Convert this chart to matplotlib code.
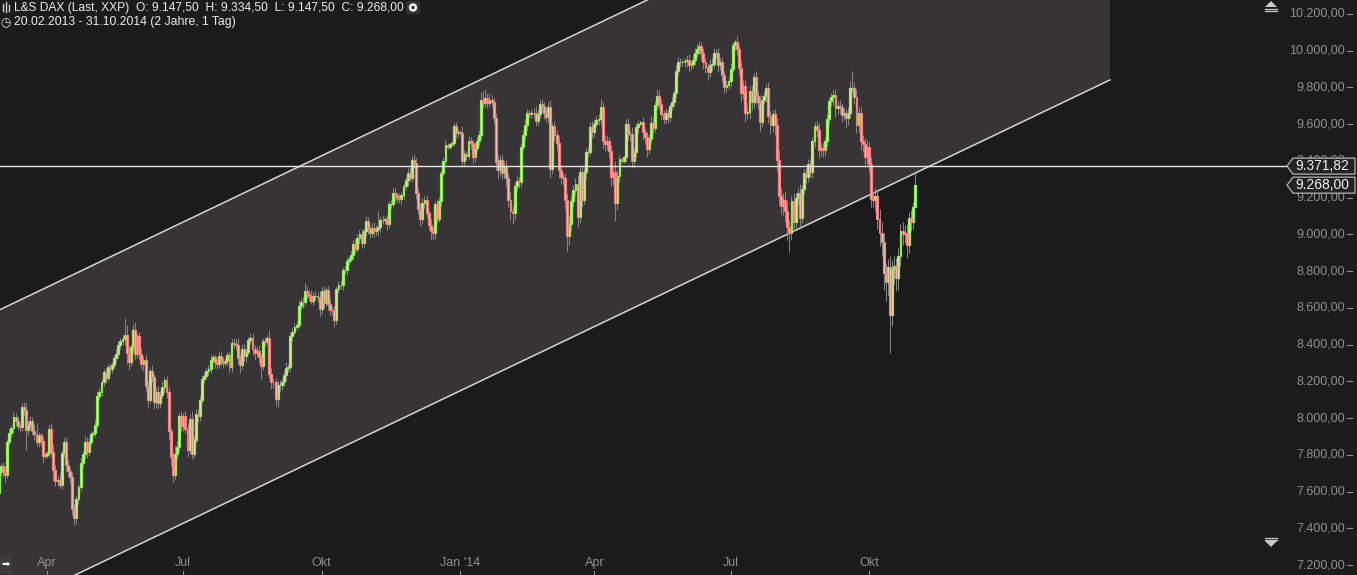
import numpy as np
import pandas as pd
import matplotlib
matplotlib.use('Agg')
import matplotlib.pyplot as plt
from matplotlib.patches import Polygon, Circle, FancyBboxPatch
from matplotlib.lines import Line2D
from matplotlib.transforms import Affine2D, blended_transform_factory

# ---------------- data (L&S DAX, daily, 20.02.2013 - 31.10.2014) ----------------
first_open = 7690.0

close_2013 = [
    7728, 7584, 7661, 7773, 7591, 7706, 7741,
    7708, 7692, 7871, 7918, 7944, 8004, 7985, 7955, 7951, 8059, 8044, 7936, 7963, 7984, 7932, 7913, 7870, 7906, 7878, 7795, 7800,
    7810, 7943, 7817, 7718, 7658, 7663, 7637, 7810, 7871, 7744, 7712, 7682, 7504, 7459, 7560, 7624, 7756, 7803, 7870, 7814, 7872, 7914,
    7920, 7964, 8122, 8143, 8197, 8249, 8221, 8278, 8267, 8288, 8325, 8349, 8399, 8420, 8430, 8455, 8352, 8305, 8386, 8480, 8351, 8446, 8348,
    8295, 8317, 8177, 8101, 8254, 8222, 8087, 8143, 8081, 8127, 8172, 8206, 8142, 7928, 7789, 7693, 7807, 7842, 8009, 7959,
    8010, 7943, 7829, 7995, 7806, 7883, 8022, 8009, 8100, 8212, 8227, 8254, 8268, 8319, 8331, 8304, 8293, 8336, 8312, 8302, 8312, 8341, 8276,
    8410, 8402, 8398, 8327, 8288, 8376, 8338, 8361, 8427, 8434, 8376, 8356, 8368, 8331, 8283, 8419, 8416, 8435, 8242, 8196, 8195, 8103,
    8180, 8180, 8195, 8234, 8275, 8276, 8446, 8470, 8495, 8509, 8613, 8634, 8632, 8694, 8675, 8665, 8640, 8665, 8665, 8661, 8594,
    8690, 8629, 8695, 8622, 8591, 8587, 8534, 8705, 8725, 8723, 8805, 8804, 8855, 8868, 8890, 8947, 8922, 8980, 9001, 8951, 9016, 9073, 9033,
    9009, 9036, 9018, 9029, 9039, 9079, 9081, 9082, 9055, 9166, 9168, 9225, 9212, 9198, 9193, 9213, 9266, 9294, 9336, 9309, 9405,
    9389, 9226, 9140, 9084, 9172, 9188, 9114, 9052, 9017, 9006, 9163, 9085, 9181, 9336, 9400, 9488, 9475, 9490, 9500, 9589, 9552, 9560,
]
close_2014 = [
    9550, 9400, 9435, 9428, 9506, 9497, 9421, 9473, 9510, 9540, 9733, 9717, 9742, 9716, 9730, 9720, 9631, 9392, 9349, 9406, 9336, 9374, 9306,
    9190, 9128, 9116, 9265, 9290, 9285, 9478, 9541, 9596, 9662, 9656, 9659, 9660, 9618, 9656, 9709, 9699, 9661, 9639, 9692,
    9358, 9589, 9542, 9497, 9350, 9311, 9307, 9188, 8990, 9056, 9180, 9242, 9277, 9093, 9342, 9189, 9338, 9448, 9451, 9587, 9556,
    9603, 9623, 9628, 9695, 9510, 9490, 9506, 9455, 9315, 9339, 9173, 9318, 9409, 9400, 9420, 9601, 9545, 9548, 9402, 9446, 9584, 9603,
    9610, 9556, 9529, 9467, 9521, 9607, 9581, 9703, 9754, 9710, 9656, 9630, 9660, 9639, 9697, 9721, 9768, 9892, 9940, 9939, 9938, 9943,
    9950, 9920, 9926, 9947, 9987, 10008, 10028, 9985, 9938, 9912, 9883, 9920, 9928, 9987, 9987, 9920, 9938, 9867, 9804, 9815, 9833,
    9903, 10029, 10050, 10009, 9906, 9772, 9808, 9659, 9666, 9783, 9719, 9859, 9753, 9720, 9613, 9734, 9753, 9795, 9644, 9593, 9653, 9593, 9407,
    9210, 9154, 9189, 9130, 9038, 9009, 9180, 9069, 9198, 9225, 9092, 9245, 9334, 9314, 9383, 9339, 9510, 9588, 9569, 9462, 9470,
    9459, 9507, 9626, 9724, 9747, 9758, 9686, 9700, 9691, 9651, 9659, 9632, 9661, 9798, 9799, 9749, 9595, 9661, 9510, 9490, 9423, 9474,
    9382, 9195, 9190, 9209, 9086, 9005, 8960, 8790, 8740, 8825, 8560, 8810, 8830, 8760, 8880, 9020, 9000, 9010, 8940, 9090, 9070, 9147.5, 9268,
]

# how far the high / low reach beyond the candle body (points)
wick_up_2013 = [
    30, 40, 25, 35, 60, 20, 15,
    20, 30, 15, 25, 20, 30, 25, 20, 15, 25, 30, 40, 20, 25, 20, 35, 60, 20, 15, 20, 10,
    10, 20, 30, 35, 25, 20, 40, 15, 20, 25, 30, 20, 25, 30, 20, 15, 25, 20, 30, 25, 20, 15,
    10, 30, 25, 20, 15, 20, 25, 15, 20, 15, 20, 25, 20, 15, 20, 90, 50, 40, 20, 30, 45, 20, 25,
    35, 20, 30, 25, 20, 35, 20, 25, 30, 25, 30, 20, 25, 30, 20, 25, 40, 35, 20, 30,
    20, 30, 25, 25, 45, 20, 25, 30, 20, 20, 25, 20, 20, 25, 20, 15, 20, 25, 30, 20, 15, 20, 25,
    20, 25, 30, 40, 20, 25, 30, 20, 15, 25, 30, 20, 25, 30, 20, 15, 25, 20, 45, 30, 20, 25,
    20, 25, 20, 25, 30, 20, 15, 20, 25, 20, 30, 20, 25, 40, 25, 20, 30, 20, 25, 20, 30,
    25, 30, 20, 25, 30, 20, 25, 15, 20, 25, 20, 25, 20, 15, 20, 25, 30, 20, 25, 30, 20, 25, 20,
    20, 25, 30, 20, 90, 20, 25, 20, 25, 15, 20, 25, 30, 20, 25, 20, 15, 20, 25, 30, 20,
    30, 25, 20, 30, 25, 20, 25, 20, 30, 25, 20, 30, 25, 15, 20, 25, 10, 10, 10, 20, 25, 15,
]
wick_dn_2013 = [
    25, 50, 30, 20, 40, 25, 20,
    30, 40, 20, 15, 20, 25, 30, 20, 25, 20, 25, 110, 30, 20, 25, 30, 20, 25, 30, 40, 10,
    15, 20, 25, 60, 30, 25, 20, 25, 20, 35, 30, 40, 30, 40, 35, 25, 20, 20, 25, 30, 20, 20,
    10, 25, 20, 20, 25, 20, 30, 20, 25, 20, 15, 20, 20, 25, 20, 30, 60, 45, 20, 25, 30, 25, 30,
    25, 40, 30, 45, 20, 25, 40, 30, 30, 25, 20, 30, 30, 40, 50, 40, 25, 30, 20, 30,
    30, 25, 40, 25, 30, 25, 20, 30, 25, 20, 20, 15, 25, 20, 20, 30, 25, 20, 25, 30, 20, 25, 30,
    25, 20, 25, 30, 40, 20, 25, 30, 20, 25, 30, 40, 25, 30, 70, 20, 25, 20, 30, 40, 30, 35,
    40, 30, 25, 20, 30, 25, 20, 25, 20, 15, 20, 25, 30, 20, 25, 30, 20, 25, 20, 30, 40,
    25, 30, 20, 35, 30, 25, 40, 20, 25, 20, 25, 20, 25, 20, 20, 30, 25, 20, 30, 25, 20, 25, 30,
    30, 25, 30, 20, 40, 25, 20, 25, 30, 20, 25, 20, 30, 25, 20, 25, 20, 25, 30, 20, 25,
    25, 35, 30, 40, 25, 30, 25, 30, 40, 35, 30, 25, 20, 25, 20, 15, 10, 10, 10, 20, 25, 20,
]
wick_up_2014 = [
    10, 40, 25, 20, 30, 25, 20, 25, 20, 30, 40, 45, 50, 30, 40, 30, 25, 30, 40, 25, 30, 25, 30,
    30, 40, 25, 20, 30, 25, 20, 25, 30, 20, 15, 25, 30, 40, 20, 25, 30, 20, 25, 30,
    40, 20, 30, 25, 40, 30, 25, 30, 40, 50, 35, 25, 30, 40, 25, 30, 25, 20, 30, 25, 30,
    25, 20, 30, 40, 25, 30, 35, 25, 30, 40, 60, 30, 25, 10, 10, 25, 30, 20, 35, 30, 25, 20,
    10, 30, 25, 30, 25, 40, 30, 25, 35, 30, 25, 20, 30, 25, 20, 25, 20, 30, 25, 20, 15, 20,
    25, 30, 20, 35, 25, 30, 25, 20, 30, 25, 20, 35, 30, 25, 20, 30, 25, 30, 20, 25, 30,
    30, 20, 15, 30, 25, 40, 30, 35, 40, 30, 25, 20, 30, 25, 40, 25, 30, 25, 35, 30, 25, 30, 40,
    50, 40, 35, 45, 50, 40, 30, 45, 25, 30, 50, 25, 20, 30, 25, 30, 20, 25, 30, 40, 30,
    30, 25, 30, 20, 25, 30, 35, 25, 30, 25, 30, 25, 30, 35, 90, 30, 40, 35, 40, 30, 35, 40,
    30, 40, 35, 45, 40, 50, 60, 45, 55, 40, 60, 50, 55, 40, 45, 35, 50, 40, 45, 30, 45, 30, 66.5,
]
wick_dn_2014 = [
    10, 35, 30, 25, 20, 30, 35, 25, 20, 25, 20, 30, 25, 30, 25, 20, 30, 40, 45, 30, 35, 30, 40,
    40, 50, 60, 35, 30, 30, 25, 20, 25, 30, 25, 20, 25, 30, 20, 25, 30, 35, 25, 30,
    50, 30, 35, 40, 45, 35, 40, 50, 80, 45, 35, 30, 25, 50, 30, 40, 25, 30, 25, 20, 30,
    25, 20, 25, 30, 40, 35, 30, 40, 50, 45, 100, 40, 30, 10, 10, 25, 30, 35, 40, 35, 25, 30,
    10, 40, 35, 45, 30, 25, 35, 25, 20, 30, 35, 30, 25, 30, 25, 20, 25, 20, 25, 30, 20, 25,
    30, 35, 25, 20, 25, 20, 30, 35, 40, 35, 45, 25, 30, 20, 30, 35, 25, 40, 35, 30, 25,
    25, 20, 25, 35, 40, 50, 35, 45, 30, 35, 40, 30, 45, 35, 50, 30, 25, 30, 40, 45, 35, 50, 60,
    50, 45, 55, 60, 70, 105, 40, 50, 35, 40, 60, 30, 25, 35, 30, 25, 30, 35, 40, 45, 35,
    35, 30, 25, 30, 25, 40, 45, 30, 35, 40, 30, 45, 35, 30, 25, 40, 45, 35, 50, 40, 45, 40,
    50, 45, 40, 60, 55, 70, 80, 90, 100, 70, 205, 60, 80, 70, 60, 50, 60, 45, 70, 40, 50, 40, 0,
]

# trend channel: two points on the lower line (trading-day index, price) and its width
channel_lower = [(41.4, 7146.0), (534.9, 9841.0)]
channel_width = 1640.0

level_line = 9371.82
last_price = 9268.00
price_ticks = list(range(7200, 10400, 200))
month_ticks = ['2013-04-01', '2013-07-01', '2013-10-01', '2014-01-01',
               '2014-04-01', '2014-07-01', '2014-10-01']
month_labels = ['Apr', 'Jul', 'Okt', "Jan '14", 'Apr', 'Jul', 'Okt']

# ---------------- setup ----------------
W, H = 1357, 575
BG = '#1c1b1b'
CHAN = '#363434'
plt.rcParams['font.family'] = ['Liberation Sans', 'DejaVu Sans']

dates = pd.bdate_range('2013-02-20', '2014-10-31')
close = np.array(close_2013 + close_2014, dtype=float)
opn = np.r_[first_open, close[:-1]]
high = np.maximum(opn, close) + np.array(wick_up_2013 + wick_up_2014, dtype=float)
low = np.minimum(opn, close) - np.array(wick_dn_2013 + wick_dn_2014, dtype=float)
idx = np.arange(len(close))

fig = plt.figure(figsize=(W / 100, H / 100), dpi=100, facecolor=BG)
ax = fig.add_axes([0, 0, 1, 1], facecolor=BG)
ax.axis('off')

px_day = 2.097
x_first = -11.7          # pixel position of the first candle
ax.set_xlim((0 - x_first) / px_day, (W - x_first) / px_day)
ax.set_ylim(7146, 10276)

pix = Affine2D().scale(1, -1).translate(0, H)   # pixel coords, origin top-left

# channel
(x1, y1), (x2, y2) = channel_lower
slope = (y2 - y1) / (x2 - x1)
cx = np.array([-30.0, x2])
lower = y1 + slope * (cx - x1)
upper = lower + channel_width
ax.fill_between(cx, lower, upper, color=CHAN, lw=0, zorder=0)
ax.plot(cx, lower, color='#d6d6d6', lw=1.1, zorder=1)
ax.plot(cx, upper, color='#d6d6d6', lw=1.1, zorder=1)

# candles
up = close >= opn
ax.vlines(idx, low, high, color='#8a8a8a', lw=0.7, zorder=2)
ax.bar(idx[up], close[up] - opn[up], bottom=opn[up], width=0.9,
       color='#d8ec9a', edgecolor='#8ff04f', linewidth=0.85, zorder=3)
ax.bar(idx[~up], close[~up] - opn[~up], bottom=opn[~up], width=0.9,
       color='#f6c4b4', edgecolor='#f57e7e', linewidth=0.85, zorder=3)

# horizontal level
x_box = 1287
ax.plot([ax.get_xlim()[0], (x_box - x_first) / px_day], [level_line, level_line],
        color='#e6e6e6', lw=1.0, zorder=4)

# right price scale
ytr = blended_transform_factory(ax.transAxes, ax.transData)
for p in price_ticks:
    lab = f'{p:,.2f}'.replace(',', 'X').replace('.', ',').replace('X', '.')
    ax.text(1345 / W, p, lab, transform=ytr, ha='right', va='center',
            fontsize=9, color='#8f8f8f', zorder=5)
    ax.plot([1347 / W, 1352 / W], [p, p], transform=ytr, color='#8f8f8f', lw=0.8, zorder=5)


def price_box(price, text):
    yd = ax.transData.transform((0, price))[1]
    yc = H - yd
    h = 8
    pts = [(x_box, yc), (x_box + 6, yc - h), (1355, yc - h), (1355, yc + h), (x_box + 6, yc + h)]
    fig.add_artist(Polygon(pts, closed=True, transform=pix, facecolor='#242323',
                           edgecolor='#b4b4b4', lw=0.9, zorder=10))
    fig.text(1322 / W, 1 - yc / H, text, ha='center', va='center', fontsize=10,
             color='#f2f2f2', zorder=11)


price_box(level_line, '9.371,82')
price_box(last_price, '9.268,00')

# month labels along the bottom
xtr = blended_transform_factory(ax.transData, ax.transAxes)
for m, lab in zip(month_ticks, month_labels):
    i = int(np.searchsorted(dates, pd.Timestamp(m)))
    ax.text(i, 1 - 563 / H, lab, transform=xtr, ha='center', va='center',
            fontsize=9, color='#8f8f8f', zorder=5)
    ax.plot([i, i], [0, 4 / H], transform=xtr, color='#8f8f8f', lw=0.8, zorder=5)

# header
fig.text(14 / W, 1 - 7.5 / H,
         'L&S DAX (Last, XXP)  O: 9.147,50  H: 9.334,50  L: 9.147,50  C: 9.268,00',
         ha='left', va='center', fontsize=8.65, color='#ececec')
fig.text(14 / W, 1 - 22.5 / H, '20.02.2013 - 31.10.2014 (2 Jahre, 1 Tag)',
         ha='left', va='center', fontsize=8.85, color='#ececec')
for xx, y0, y1_ in [(3, 4, 11), (6, 2, 12), (9, 5, 11)]:
    fig.add_artist(Line2D([xx, xx], [y0, y1_], transform=pix, color='#cfcfcf', lw=1.0))
fig.text(0.5 / W, 1 - 22.5 / H, '\u25f7', family='DejaVu Sans', ha='left', va='center',
         fontsize=8.5, color='#ececec')
fig.add_artist(FancyBboxPatch((406, 1), 14, 13, boxstyle='round,pad=0,rounding_size=2',
                              transform=pix, facecolor='#333232', edgecolor='none'))
fig.add_artist(Circle((413, 7.5), 4.2, transform=pix, facecolor='#f0f0f0', edgecolor='none'))
fig.add_artist(Circle((413, 7.5), 1.7, transform=pix, facecolor='#333232', edgecolor='none'))

# scroll arrows on the right
fig.add_artist(Polygon([(1265, 7), (1277, 7), (1271, 1)], transform=pix,
                       facecolor='#c8c8c8', edgecolor='none'))
for yy in (8.5, 10.5):
    fig.add_artist(Line2D([1265, 1277], [yy, yy], transform=pix, color='#c8c8c8', lw=0.9))
for yy in (537.5, 539.5):
    fig.add_artist(Line2D([1265, 1277], [yy, yy], transform=pix, color='#c8c8c8', lw=0.9))
fig.add_artist(Polygon([(1265, 541), (1277, 541), (1271, 547)], transform=pix,
                       facecolor='#c8c8c8', edgecolor='none'))

# bottom-left button
fig.add_artist(FancyBboxPatch((0, 555), 12, 18, boxstyle='round,pad=0,rounding_size=2',
                              transform=pix, facecolor='#3d3c3c', edgecolor='none'))
fig.text(5.5 / W, 1 - 564 / H, '\u27a1', family='DejaVu Sans', ha='center', va='center',
         fontsize=7, color='#ffffff')

fig.savefig('out.png', dpi=100, facecolor=BG)
